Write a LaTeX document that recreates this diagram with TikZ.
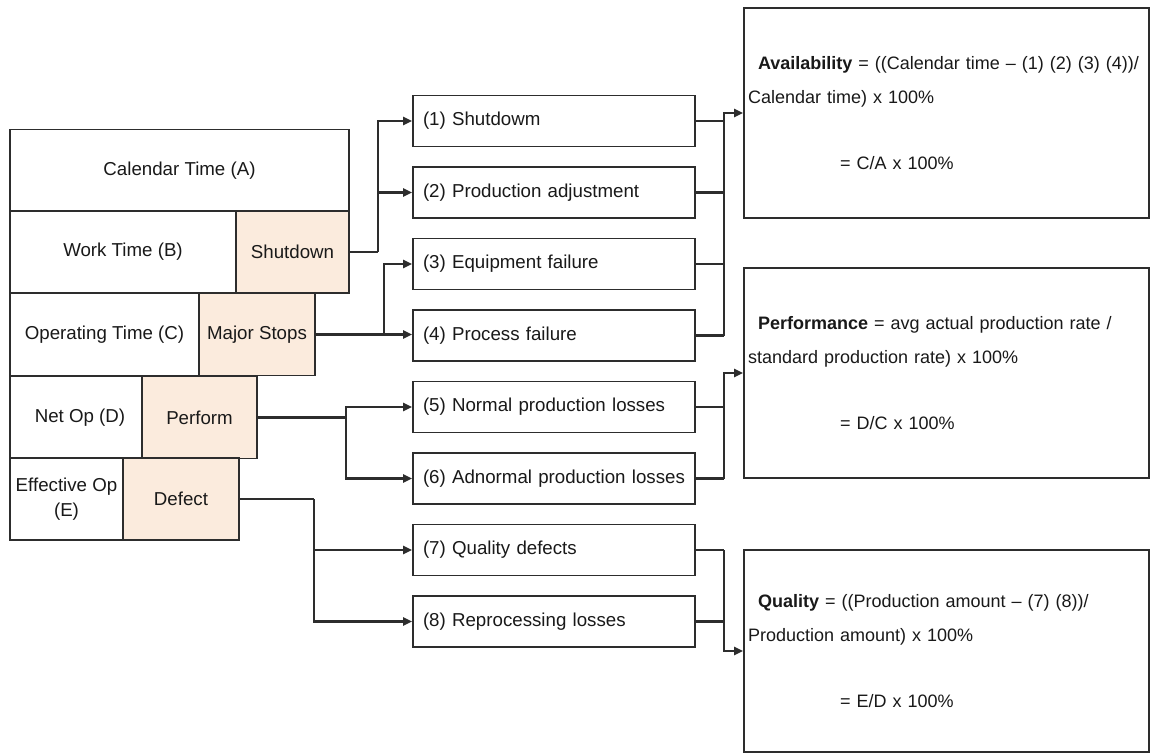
\documentclass[tikz,border=0pt]{standalone}
\usepackage{fontspec}
\setmainfont{Liberation Sans}
\usetikzlibrary{arrows.meta}
\definecolor{peach}{RGB}{251,235,221}
\definecolor{edgegrey}{RGB}{45,45,45}
\begin{document}
\begin{tikzpicture}[x=1pt,y=-1pt,
    box/.style={draw=edgegrey,line width=1.6pt,fill=white,inner sep=0pt,text=black!90,
      font=\fontsize{18.7}{22}\selectfont},
    lossbox/.style={box,minimum width=282pt,minimum height=51pt,text width=262pt,align=left},
    lossitem/.style={box,fill=peach,minimum width=#1,minimum height=82pt},
    rowbox/.style={box,minimum width=#1,minimum height=82pt,align=center},
    formula/.style={box,minimum width=405pt,text width=397pt,align=left,
      font=\fontsize{18}{34}\selectfont},
    conn/.style={draw=edgegrey,line width=2.2pt},
    arr/.style={conn,-{Triangle[length=9pt,width=8pt]}}]
    \useasboundingbox (0,0) rectangle (1153,755);
    \node[rowbox=339pt] (calA) at (179.5,170.5) {Calendar Time (A)};
    \node[rowbox=226pt] (workB) at (123,252) {Work Time (B)};
    \node[lossitem=113pt] (shutB) at (292.5,252) {Shutdown};
    \node[rowbox=189pt] (opC) at (104.5,334.5) {Operating Time (C)};
    \node[lossitem=116pt] (majorC) at (257,334.5) {Major Stops};
    \node[rowbox=132pt] (netD) at (76,417.5) {\hspace*{8pt}Net Op (D)};
    \node[lossitem=115pt] (perfD) at (199.5,417.5) {Perform};
    \node[rowbox=113pt,font=\fontsize{18.7}{25}\selectfont] (effE) at (66.5,499) {Effective Op\\(E)};
    \node[lossitem=116pt] (defE) at (181,499) {Defect};

    \node[lossbox] (loss1) at (554,121) {(1) Shutdowm};
    \node[lossbox] (loss2) at (554,192.5) {(2) Production adjustment};
    \node[lossbox] (loss3) at (554,264) {(3) Equipment failure};
    \node[lossbox] (loss4) at (554,335.5) {(4) Process failure};
    \node[lossbox] (loss5) at (554,407) {(5) Normal production losses};
    \node[lossbox] (loss6) at (554,478.5) {(6) Adnormal production losses};
    \node[lossbox] (loss7) at (554,550) {(7) Quality defects};
    \node[lossbox] (loss8) at (554,621.5) {(8) Reprocessing losses};

    \node[formula,minimum height=210pt] (availBox) at (946.5,113) {\mbox{\hspace*{10pt}\textbf{Availability} = ((Calendar time – (1) (2) (3) (4))/}\\Calendar time) x 100\%\\[32pt]\hspace*{92pt}= C/A x 100\%};
    \node[formula,minimum height=210pt] (perfBox) at (946.5,373) {\mbox{\hspace*{10pt}\textbf{Performance} = avg actual production rate /}\\standard production rate) x 100\%\\[32pt]\hspace*{92pt}= D/C x 100\%};
    \node[formula,minimum height=202pt] (qualBox) at (946.5,651) {\mbox{\hspace*{10pt}\textbf{Quality} = ((Production amount – (7) (8))/}\\Production amount) x 100\%\\[32pt]\hspace*{92pt}= E/D x 100\%};

    \coordinate (jShut) at ([xshift=28pt]shutB.east);
    \coordinate (jMajor) at ([xshift=68pt]majorC.east);
    \coordinate (jPerf) at ([xshift=88pt]perfD.east);
    \coordinate (jDef) at ([xshift=74pt]defE.east);
    \draw[conn] (shutB.east) -- (jShut);
    \draw[arr] (jShut) |- (loss1.west);
    \draw[arr] (jShut |- loss2.west) -- (loss2.west);
    \draw[arr] (majorC.east) -- (majorC.east -| loss4.west);
    \draw[arr] (jMajor) |- (loss3.west);
    \draw[conn] (perfD.east) -- (jPerf);
    \draw[arr] (jPerf) |- (loss5.west);
    \draw[arr] (jPerf) |- (loss6.west);
    \draw[conn] (defE.east) -- (jDef);
    \draw[arr] (jDef) |- (loss7.west);
    \draw[arr] (jDef) |- (loss8.west);

    \coordinate (busA) at ([xshift=28pt]loss4.east);
    \coordinate (busP) at ([xshift=28pt]loss6.east);
    \coordinate (busQ) at ([xshift=28pt]loss7.east);
    \draw[conn] (loss1.east) -- (loss1.east -| busA);
    \draw[conn] (loss2.east) -- (loss2.east -| busA);
    \draw[conn] (loss3.east) -- (loss3.east -| busA);
    \draw[conn] (loss4.east) -- (busA);
    \draw[arr] (busA) |- (availBox.west);
    \draw[conn] (loss5.east) -- (loss5.east -| busP);
    \draw[conn] (loss6.east) -- (busP);
    \draw[arr] (busP) |- (perfBox.west);
    \draw[conn] (loss7.east) -- (busQ);
    \draw[conn] (loss8.east) -- (loss8.east -| busQ);
    \draw[arr] (busQ) |- (qualBox.west);
\end{tikzpicture}
\end{document}
